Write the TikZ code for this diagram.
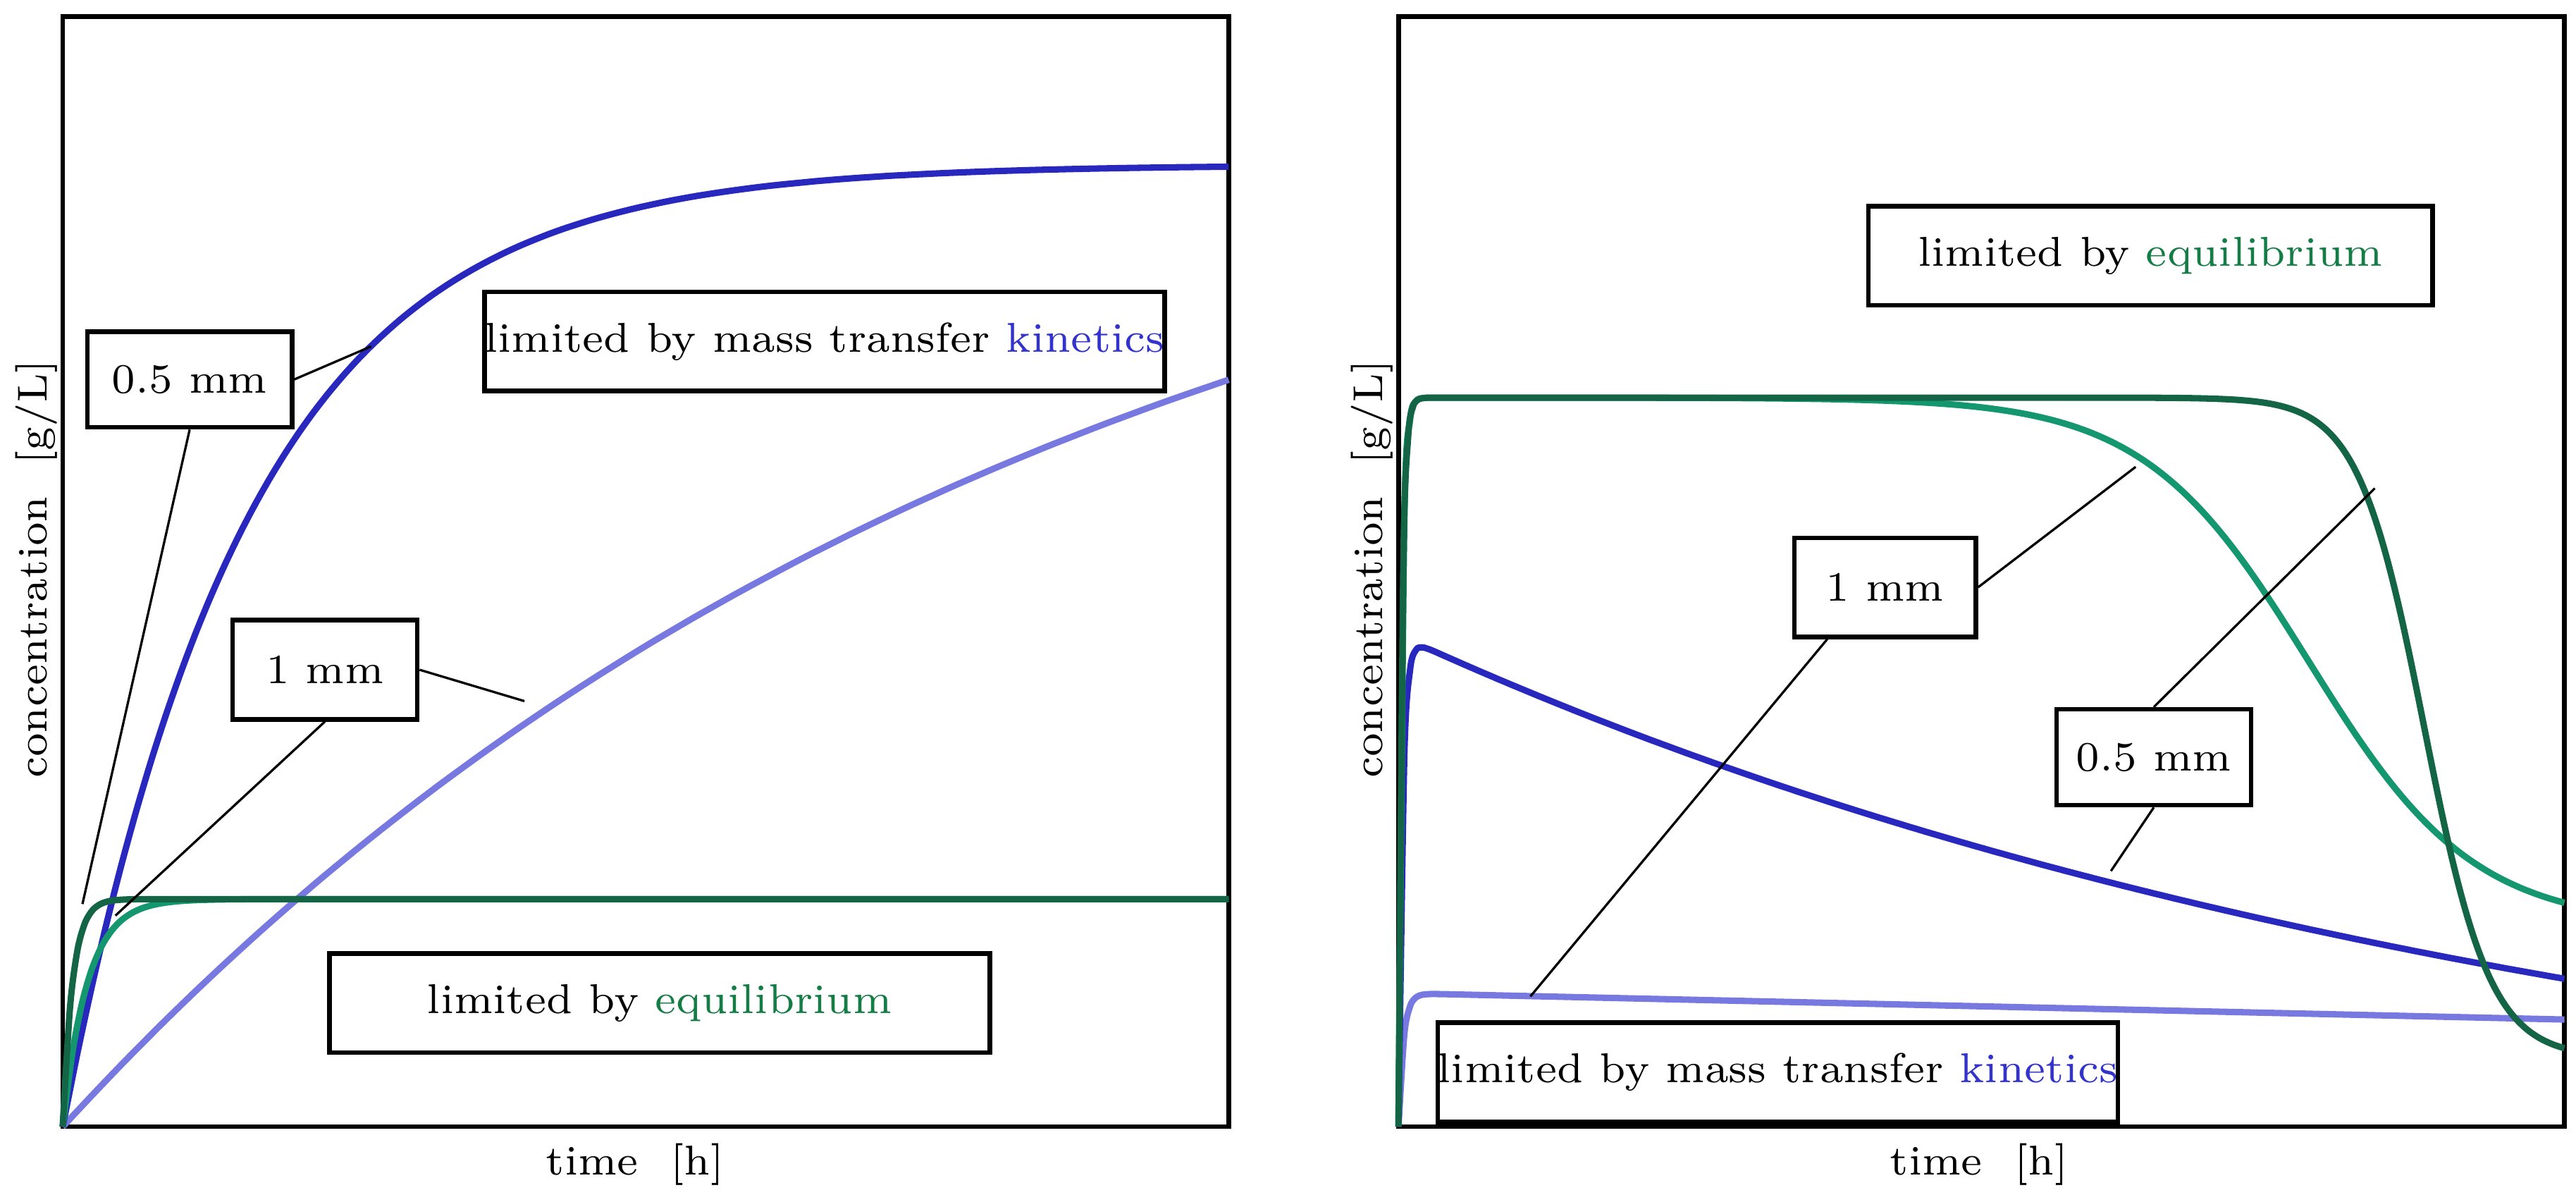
\documentclass[tikz,border=0pt]{standalone}
\usepackage{tikz}
\usetikzlibrary{calc}
\definecolor{darkblue}{RGB}{40,40,190}
\definecolor{lightblue}{RGB}{120,120,225}
\definecolor{darkgreen}{RGB}{20,100,70}
\definecolor{midgreen}{RGB}{20,150,110}
\definecolor{eqgreen}{RGB}{20,125,70}
\definecolor{kinblue}{RGB}{50,50,205}
\begin{document}
\begin{tikzpicture}[x=0.01cm,y=-0.01cm, font=\fontsize{7.2}{9}\selectfont,
	box/.style={draw,thick,fill=white,inner sep=0pt},
	curve/.style={line width=1.1pt,smooth},
	lead/.style={thin}]
	
	\useasboundingbox (0,0) rectangle (1562,724);
	
	% left panel
	\draw[thick] (38,10) rectangle (745,683);
	\draw[curve,lightblue] plot[domain=38:745,samples=60] (\x,{30+653*exp(-(\x-38)/598)});
	\draw[curve,darkblue] plot[domain=38:745,samples=80] (\x,{100+583*exp(-(\x-38)/112)});
	\draw[curve,midgreen] plot[domain=38:745,samples=120] (\x,{545+138*exp(-min((\x-38)/15,30))});
	\draw[curve,darkgreen] plot[domain=38:745,samples=160] (\x,{545+138*exp(-min((\x-38)/6,30))});
	
	\node[rotate=90] at (22,345) {concentration\ \ [g/L]};
	\node at (385,706) {time\ \ [h]};
	
	\node[box,minimum width=1.24cm,minimum height=0.58cm] (halfL) at (115,230) {0.5 mm};
	\node[box,minimum width=1.12cm,minimum height=0.6cm] (oneL) at (197,406) {1 mm};
	\coordinate (halfLa) at (225,210);
	\coordinate (halfLb) at (50,548);
	\coordinate (oneLa) at (318,425);
	\coordinate (oneLb) at (70,555);
	\draw[lead] (halfL.east) -- (halfLa);
	\draw[lead] (halfL.south) -- (halfLb);
	\draw[lead] (oneL.east) -- (oneLa);
	\draw[lead] (oneL.south) -- (oneLb);
	\node[box,minimum width=4cm,minimum height=0.6cm] (kinL) at (500,207) {limited by mass transfer \textcolor{kinblue}{kinetics}};
	\node[box,minimum width=4cm,minimum height=0.6cm] (eqL) at (400,608) {limited by \textcolor{eqgreen}{equilibrium}};
	
	% right panel
	\draw[thick] (848,10) rectangle (1555,683);
	\draw[curve,lightblue] plot[domain=848:1555,samples=200] (\x,{683-(1-exp(-min((\x-848)/3,30)))*(683-(602+16*(\x-848)/707))});
	\draw[curve,darkblue] plot[domain=848:1555,samples=200] (\x,{683-(1-exp(-min((\x-848)/2.5,30)))*(683-(720-335*exp(-(\x-848)/727)))});
	\draw[curve,midgreen] plot[domain=848:1555,samples=200] (\x,{683-(1-exp(-min((\x-848)/2,30)))*(683-(241+320/(1+exp(min(-(\x-1400)/50,9)))))});
	\draw[curve,darkgreen] plot[domain=848:1555,samples=240] (\x,{683-(1-exp(-min((\x-848)/2,30)))*(683-(241+400/(1+exp(min(-(\x-1470)/20,9)))))});
	
	\node[rotate=90] at (832,345) {concentration\ \ [g/L]};
	\node at (1200,706) {time\ \ [h]};
	
	\node[box,minimum width=3.42cm,minimum height=0.6cm] (eqR) at (1304,155) {limited by \textcolor{eqgreen}{equilibrium}};
	\node[box,minimum width=1.1cm,minimum height=0.6cm] (oneR) at (1143,356) {1 mm};
	\node[box,minimum width=1.18cm,minimum height=0.58cm] (halfR) at (1306,459) {0.5 mm};
	\coordinate (oneRa) at (1295,283);
	\coordinate (oneRb) at (928,604);
	\coordinate (halfRa) at (1440,296);
	\coordinate (halfRb) at (1280,528);
	\draw[lead] (oneR.east) -- (oneRa);
	\draw[lead] ($(oneR.south)+(-35,0)$) -- (oneRb);
	\draw[lead] (halfR.north) -- (halfRa);
	\draw[lead] (halfR.south) -- (halfRb);
	\node[box,minimum width=4.1cm,minimum height=0.6cm] (kinR) at (1078,650) {limited by mass transfer \textcolor{kinblue}{kinetics}};
	
\end{tikzpicture}
\end{document}
